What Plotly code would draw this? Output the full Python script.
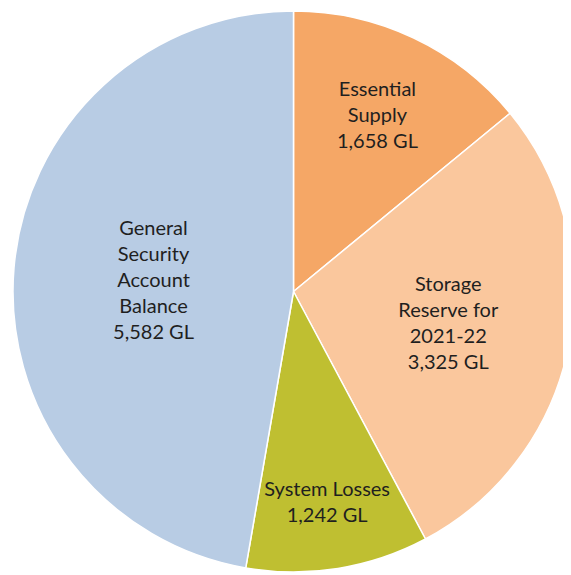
import plotly.graph_objects as go

labels = ["Essential Supply", "Storage Reserve for 2021-22", "System Losses", "General Security Account Balance"]
values = [1658, 3325, 1242, 5582]
texts = ["Essential<br>Supply<br>1,658 GL", "Storage<br>Reserve for<br>2021-22<br>3,325 GL",
         "System Losses<br>1,242 GL", "General<br>Security<br>Account<br>Balance<br>5,582 GL"]
colors = ["#F5A766", "#FAC79D", "#BFBF31", "#B8CCE4"]

fig = go.Figure(go.Pie(
    labels=labels, values=values, text=texts,
    textinfo="text", textposition="inside", insidetextorientation="horizontal",
    sort=False, direction="clockwise", rotation=0,
    marker=dict(colors=colors, line=dict(color="white", width=1.5)),
    textfont=dict(family="Lato, Open Sans, sans-serif", size=20, color="#1f1f1f"),
    hoverinfo="label+value", showlegend=False,
    domain=dict(x=[0, 1], y=[0, 1]),
))
fig.update_layout(
    width=571, height=575,
    margin=dict(l=0, r=0, t=3, b=11),
    paper_bgcolor="white", plot_bgcolor="white",
    uniformtext=dict(minsize=10, mode="show"),
)
fig.write_html("out.html")
